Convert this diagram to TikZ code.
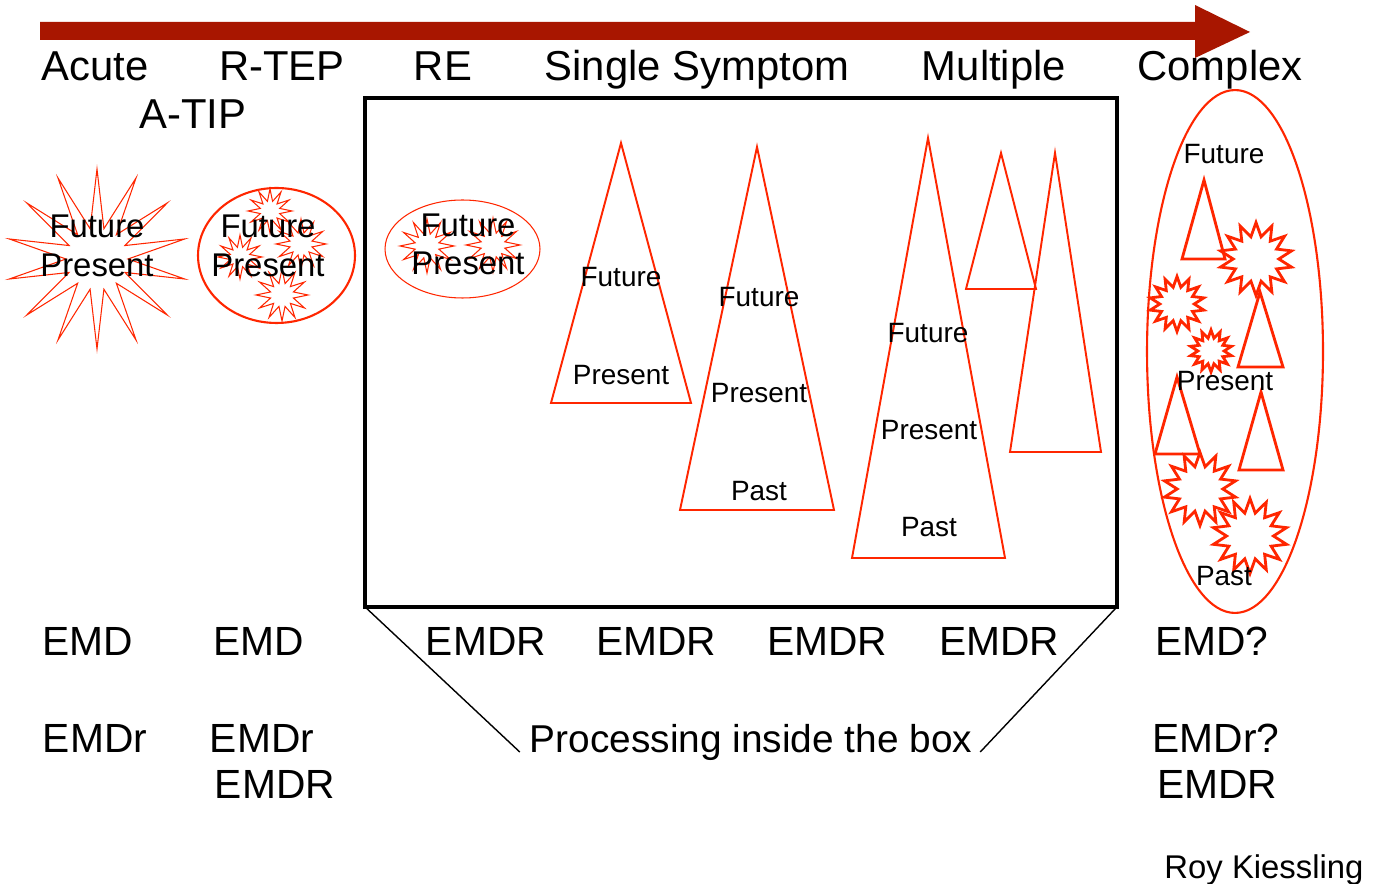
\documentclass[tikz,border=0pt]{standalone}
\usepackage{fontspec}
\setmainfont{Liberation Sans}
\usetikzlibrary{shapes.geometric}
\definecolor{arrowred}{RGB}{168,22,0}
\definecolor{shapered}{RGB}{255,38,0}

\begin{document}
\begin{tikzpicture}[x=0.02cm, y=-0.02cm,
    every node/.style = {inner sep=0mm, outer sep=0mm, anchor=base, text=black},
       heading/.style = {font=\fontsize{23.8}{28}\selectfont},
        method/.style = {font=\fontsize{23.2}{28}\selectfont},
       blobtxt/.style = {font=\fontsize{18.7}{22}\selectfont},
        tritxt/.style = {font=\fontsize{15.9}{19}\selectfont},
           tri/.style = {draw=shapered, line width=1.1pt},
         burst/.style = {star, draw=shapered, anchor=center, line width=0.6pt,
                         star points=12, star point ratio=2.2},
        bigbang/.style = {star, draw=shapered, anchor=center, line width=0.6pt,
                         star points=14, star point ratio=2.9},
       cburst/.style = {star, draw=shapered, anchor=center, line width=1.6pt,
                         star points=14, star point ratio=1.6},
          blob/.style = {ellipse, draw=shapered, anchor=center}]%
  \useasboundingbox (0,0) rectangle (1382,884);
  % arrow on top
  \fill[arrowred] (40,22) -- (1195,22) -- (1195,5) -- (1250,32)
                  -- (1195,58) -- (1195,40) -- (40,40) -- cycle;
  % headings
  \node [heading] (acute)    at (95,81)   {Acute};
  \node [heading] (rtep)     at (282,81)  {R-TEP};
  \node [heading] (re)       at (443,81)  {RE};
  \node [heading] (single)   at (697,81)  {Single Symptom};
  \node [heading] (multiple) at (994,81)  {Multiple};
  \node [heading] (complex)  at (1220,81) {Complex};
  \node [heading] (atip)     at (193,129) {A-TIP};
  % acute
  \node [bigbang, minimum size=3.6cm] (acuteburst) at (97,259) {};
  \node [blobtxt] (acutefut)  at (97,238) {Future};
  \node [blobtxt] (acutepres) at (97,277) {Present};
  % r-tep
  \node [blob, line width=1.2pt, minimum width=3.14cm, minimum height=2.7cm]
                (rtepblob) at (276.5,255.5) {};
  \node [burst, minimum size=0.88cm] (rtepa) at (270,211) {};
  \node [burst, minimum size=0.88cm] (rtepb) at (240,257) {};
  \node [burst, minimum size=1.0cm]  (rtepc) at (301,244) {};
  \node [burst, minimum size=1.04cm] (rtepd) at (282,295) {};
  \node [blobtxt] (rtepfut)  at (268,238) {Future};
  \node [blobtxt] (rteppres) at (268,277) {Present};
  % re
  \node [blob, line width=0.6pt, minimum width=3.1cm, minimum height=1.96cm]
                (reblob) at (462.5,249) {};
  \node [burst, minimum size=1.08cm] (rea) at (427,246) {};
  \node [burst, minimum size=1.08cm] (reb) at (493,245) {};
  \node [blobtxt] (refut)  at (468,237) {Future};
  \node [blobtxt] (repres) at (468,275) {Present};
  % the box
  \node [draw, line width=2.3pt, anchor=center, minimum width=15.04cm,
         minimum height=10.18cm] (box) at (741,352.5) {};
  % single symptom
  \draw [tri] (621,143) -- (691,403) -- (551,403) -- cycle;
  \node [tritxt] (onefut)  at (621,287) {Future};
  \node [tritxt] (onepres) at (621,385) {Present};
  \draw [tri] (757,147) -- (834,510) -- (680,510) -- cycle;
  \node [tritxt] (twofut)  at (759,307) {Future};
  \node [tritxt] (twopres) at (759,403) {Present};
  \node [tritxt] (twopast) at (759,501) {Past};
  % multiple
  \draw [tri] (928,138) -- (1005,558) -- (852,558) -- cycle;
  \draw [tri] (1001,153) -- (1036,289) -- (966,289) -- cycle;
  \draw [tri] (1055,153) -- (1101,452) -- (1010,452) -- cycle;
  \node [tritxt] (multfut)  at (928,343) {Future};
  \node [tritxt] (multpres) at (929,440) {Present};
  \node [tritxt] (multpast) at (929,537) {Past};
  % complex
  \node [blob, line width=1.2pt, minimum width=3.52cm, minimum height=10.46cm]
                (cxblob) at (1235,351.5) {};
  \draw [tri, line width=1.6pt] (1204,180) -- (1225,259) -- (1182,259) -- cycle;
  \draw [tri, line width=1.6pt] (1260,292) -- (1283,367) -- (1238,367) -- cycle;
  \draw [tri, line width=1.6pt] (1177,377) -- (1200,454) -- (1155,454) -- cycle;
  \draw [tri, line width=1.6pt] (1261,392) -- (1283,470) -- (1239,470) -- cycle;
  \node [cburst, minimum size=1.46cm] (cxa) at (1256,259) {};
  \node [cburst, minimum size=1.1cm]  (cxb) at (1177,304) {};
  \node [cburst, minimum size=0.84cm] (cxc) at (1211,351) {};
  \node [cburst, minimum size=1.46cm] (cxd) at (1200,489) {};
  \node [cburst, minimum size=1.5cm]  (cxe) at (1250,536) {};
  \node [tritxt] (cxfut)  at (1224,164) {Future};
  \node [tritxt] (cxpres) at (1225,391) {Present};
  \node [tritxt] (cxpast) at (1224,585) {Past};
  % methods
  \node [method] (emda)  at (88,655)   {EMD};
  \node [method] (emdb)  at (259,655)  {EMD};
  \node [method] (emdra) at (486,655)  {EMDR};
  \node [method] (emdrb) at (656,655)  {EMDR};
  \node [method] (emdrc) at (827,655)  {EMDR};
  \node [method] (emdrd) at (999,655)  {EMDR};
  \node [method] (emdq)  at (1212,655) {EMD?};
  \node [method] (emdrsa) at (95,752)   {EMDr};
  \node [method] (emdrsb) at (262,752)  {EMDr};
  \node [method] (emdrsq) at (1216,752) {EMDr?};
  \node [method] (emdre)  at (275,798)  {EMDR};
  \node [method] (emdrf)  at (1217,798) {EMDR};
  \node [font=\fontsize{22.1}{26}\selectfont] (proc) at (751,752)
        {Processing inside the box};
  \draw [line width=0.8pt] (box.south west) -- ([xshift=-0.2cm]proc.base west);
  \draw [line width=0.8pt] (box.south east) -- ([xshift=0.16cm]proc.base east);
  \node [font=\fontsize{18.7}{22}\selectfont] (author) at (1264,878)
        {Roy Kiessling};
\end{tikzpicture}
\end{document}
